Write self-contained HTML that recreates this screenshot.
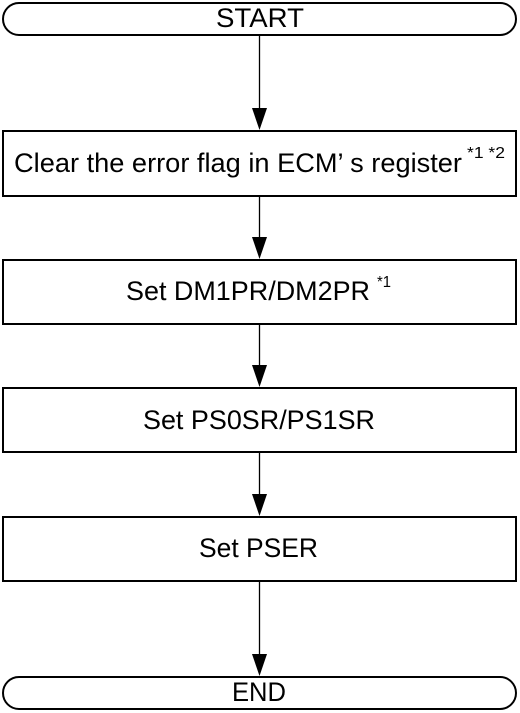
<!DOCTYPE html>
<html><head><style>
body{margin:0;background:#fff;}
svg{display:block;}
text{font-family:"Liberation Sans",Arial,sans-serif;fill:#000;}
</style></head><body>
<svg width="520" height="713" viewBox="0 0 520 713" xmlns="http://www.w3.org/2000/svg">
<g fill="none" stroke="#000" stroke-width="2">
<rect x="3" y="3" width="513" height="32" rx="16"/>
<rect x="3" y="131" width="513" height="65"/>
<rect x="3" y="260" width="513" height="64"/>
<rect x="3" y="388" width="513" height="64"/>
<rect x="3" y="517" width="513" height="64"/>
<rect x="3" y="677" width="513" height="32" rx="16"/>
</g>
<g stroke="#000" stroke-width="1.3">
<line x1="259.5" y1="35" x2="259.5" y2="112"/>
<line x1="259.5" y1="196" x2="259.5" y2="240"/>
<line x1="259.5" y1="324" x2="259.5" y2="368"/>
<line x1="259.5" y1="452" x2="259.5" y2="497"/>
<line x1="259.5" y1="581" x2="259.5" y2="657"/>
</g>
<g fill="#000">
<polygon points="252,108 267,108 259.5,130"/>
<polygon points="252,237 267,237 259.5,259"/>
<polygon points="252,365 267,365 259.5,387"/>
<polygon points="252,494 267,494 259.5,516"/>
<polygon points="252,654 267,654 259.5,676"/>
</g>
<g font-size="27">
<text x="216" y="27" textLength="88" lengthAdjust="spacingAndGlyphs">START</text>
<text x="14" y="172" textLength="448" lengthAdjust="spacingAndGlyphs">Clear the error flag in ECM’ s register</text>
<text x="126" y="300" textLength="244" lengthAdjust="spacingAndGlyphs">Set DM1PR/DM2PR</text>
<text x="143" y="429" textLength="232" lengthAdjust="spacingAndGlyphs">Set PS0SR/PS1SR</text>
<text x="199" y="557" textLength="119" lengthAdjust="spacingAndGlyphs">Set PSER</text>
<text x="232" y="701" textLength="54" lengthAdjust="spacingAndGlyphs">END</text>
</g>
<g font-size="16">
<text x="467" y="158" textLength="38" lengthAdjust="spacingAndGlyphs">*1 *2</text>
<text x="377" y="287" textLength="14" lengthAdjust="spacingAndGlyphs">*1</text>
</g>
</svg>
</body></html>
